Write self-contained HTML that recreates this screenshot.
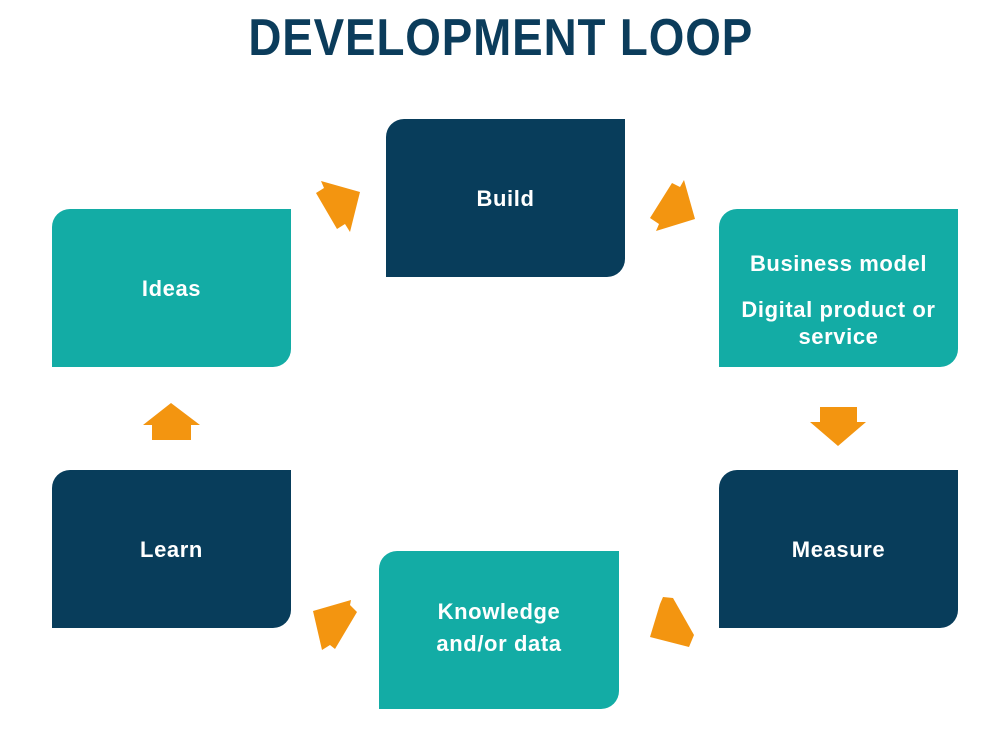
<!DOCTYPE html>
<html><head><style>
body{margin:0;width:1000px;height:731px;background:#fff;position:relative;overflow:hidden;font-family:"Liberation Sans",sans-serif}
.t{position:absolute;left:0;width:1000px;top:8px;text-align:center;font-weight:bold;font-size:52px;color:#0b3c5b;letter-spacing:1px;transform:scaleX(0.88);transform-origin:506px 0}
.b{position:absolute;width:239px;height:158px;border-radius:18px 0 18px 0;color:#fff;display:flex;flex-direction:column;align-items:center;justify-content:center;text-align:center;font-size:22px;line-height:27px;font-weight:bold;letter-spacing:0.6px}
.n{background:#083d5b}.g{background:#13aca5}
</style></head><body>
<div class="t">DEVELOPMENT LOOP</div>
<div class="b g" style="left:52px;top:209px">Ideas</div>
<div class="b n" style="left:386px;top:119px">Build</div>
<div class="b g" style="left:719px;top:209px;padding-top:24px;box-sizing:border-box"><div>Business model</div><div style="margin-top:19px">Digital product or<br>service</div></div>
<div class="b n" style="left:52px;top:470px">Learn</div>
<div class="b n" style="left:719px;top:470px">Measure</div>
<div class="b g" style="left:379px;top:551px;width:240px;line-height:32px;padding-bottom:4px;box-sizing:border-box">Knowledge<br>and/or data</div>
<svg width="1000" height="731" style="position:absolute;left:0;top:0" fill="#f39510">
<polygon points="321,181 324,188 316,193 337,229 345,224 350,232 360,192"/>
<polygon points="684,180 695,219 656,231 659,224 650,218 672,183 680,187"/>
<polygon points="820,407 857,407 857,422 866,422 838,446 810,422 820,422"/>
<polygon points="171,403 200,425 191,425 191,440 152,440 152,425 143,425"/>
<polygon points="313,611 351,600 350,605 357,612 335,649 330,645 322,650"/>
<polygon points="663,597 673,598 694,635 689,647 650,637 660,604"/>
</svg>
</body></html>
